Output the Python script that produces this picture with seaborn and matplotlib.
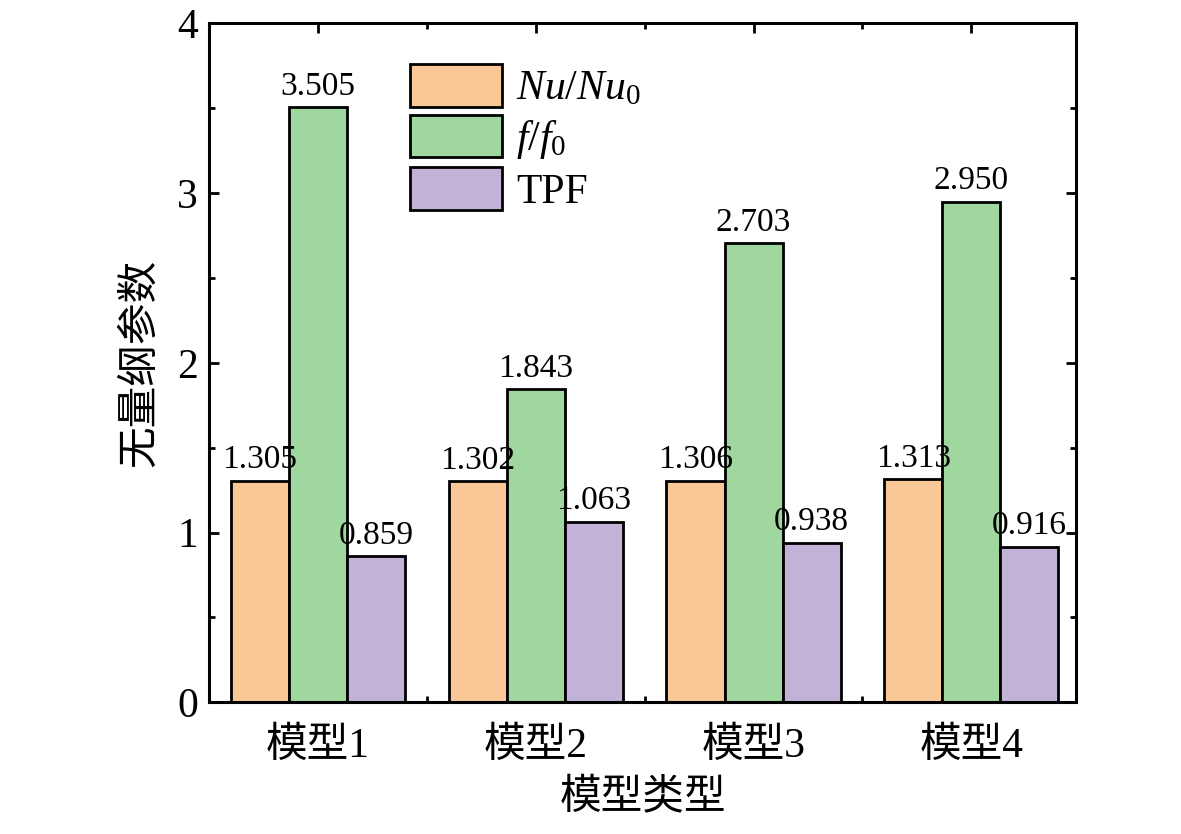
import pandas as pd
import numpy as np
import seaborn as sns
import matplotlib.pyplot as plt
from matplotlib.ticker import MultipleLocator, FixedLocator

# data
models = ['模型1', '模型2', '模型3', '模型4']
series = [r'$Nu/Nu_0$', r'$f/f_0$', 'TPF']
nu_ratio = [1.305, 1.302, 1.306, 1.313]
f_ratio = [3.505, 1.843, 2.703, 2.950]
tpf = [0.859, 1.063, 0.938, 0.916]
colors = ['#FAC897', '#A0D79E', '#C2B2D8']

rows = []
for name, vals in zip(series, [nu_ratio, f_ratio, tpf]):
    for m, v in zip(models, vals):
        rows.append({'model': m, 'series': name, 'value': v})
df = pd.DataFrame(rows)

sns.set_theme(style="ticks", rc={"text.color": "black", "axes.labelcolor": "black",
                                 "xtick.color": "black", "ytick.color": "black"})
plt.rcParams['font.family'] = ['Liberation Serif', 'Noto Sans CJK SC']
plt.rcParams['mathtext.fontset'] = 'custom'
plt.rcParams['mathtext.rm'] = 'Liberation Serif'
plt.rcParams['mathtext.it'] = 'Liberation Serif:italic'

fig = plt.figure(figsize=(11.81, 8.34), dpi=100)
ax = fig.add_axes([0.177, 0.158, 0.734, 0.814])

sns.barplot(data=df, x='model', y='value', hue='series', palette=colors,
            width=0.8, edgecolor='black', linewidth=2.0, ax=ax, saturation=1)

for cont in ax.containers:
    ax.bar_label(cont, fmt='%.3f', padding=4, fontsize=24, color='black')

ax.set_ylim(0, 4)
ax.set_xlim(-0.5, 3.48)
ax.yaxis.set_major_locator(MultipleLocator(1))
ax.yaxis.set_minor_locator(MultipleLocator(0.5))
ax.xaxis.set_minor_locator(FixedLocator([0.5, 1.5, 2.5]))

for s in ax.spines.values():
    s.set_visible(True)
    s.set_linewidth(2.2)
    s.set_color('black')

ax.tick_params(axis='both', which='major', direction='in', length=7, width=2,
               labelsize=30, top=True, right=True, color='black', pad=8)
ax.tick_params(axis='both', which='minor', direction='in', length=4, width=2,
               top=True, right=True, color='black')
ax.tick_params(axis='x', which='major', pad=18)

ax.set_xlabel('模型类型', fontsize=30, labelpad=10)
ax.set_ylabel('无量纲参数', fontsize=30, labelpad=12)

handles, labels = ax.get_legend_handles_labels()
ax.legend(handles, labels, loc='upper left', bbox_to_anchor=(0.232, 0.94),
          frameon=False, fontsize=30, handlelength=2.2, handleheight=1.2,
          labelspacing=0.15, handletextpad=0.35, borderpad=0, borderaxespad=0)

plt.savefig('out.png', dpi=100)
